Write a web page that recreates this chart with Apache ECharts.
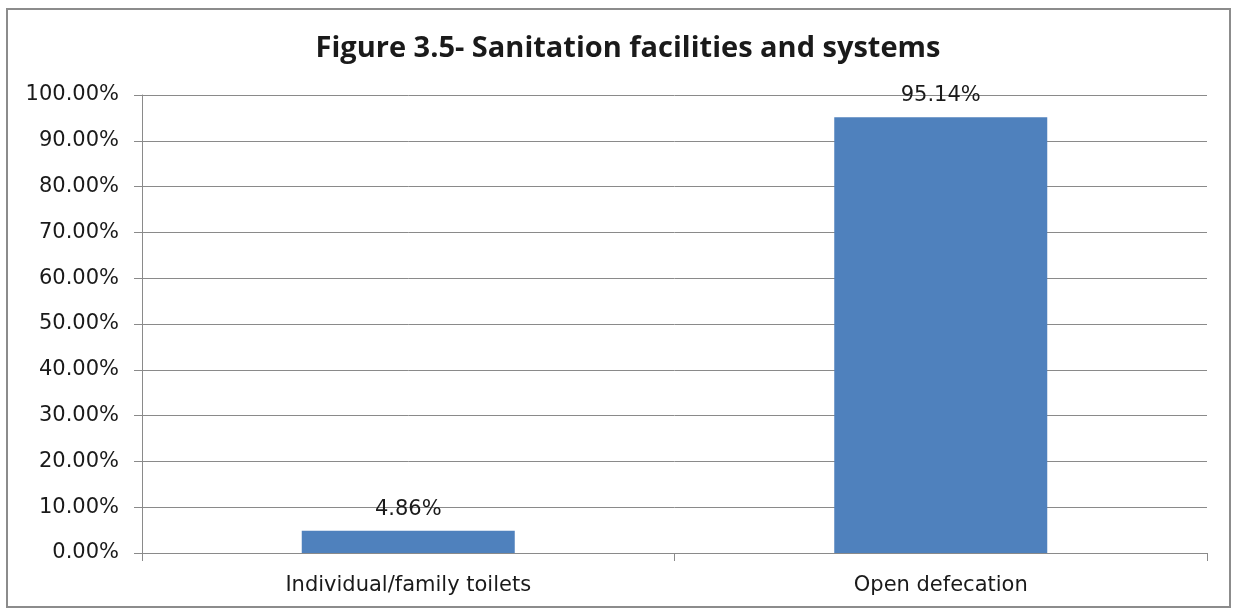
<!DOCTYPE html>
<html>
<head>
<meta charset="utf-8">
<style>
  html, body { margin: 0; padding: 0; background: #ffffff; }
  #chart { width: 1237px; height: 613px; }
</style>
<script src="https://cdn.jsdelivr.net/npm/echarts@6/dist/echarts.min.js"></script>
</head>
<body>
<div id="chart"></div>
<script>
// Sanitation facilities and systems — share of households
const categories = ['Individual/family toilets', 'Open defecation'];
const shares = [4.86, 95.14];
const yTicks = [0, 10, 20, 30, 40, 50, 60, 70, 80, 90, 100];

const chart = echarts.init(document.getElementById('chart'), null, { renderer: 'canvas' });

const labelFont = 'DejaVu Sans';
const textColor = '#1a1a1a';
const lineColor = '#8a8a8a';

chart.setOption({
  backgroundColor: '#ffffff',
  animation: false,
  title: {
    text: 'Figure 3.5- Sanitation facilities and systems',
    left: 623,
    textAlign: 'center',
    top: 29,
    textStyle: {
      fontFamily: 'Open Sans',
      fontWeight: 'bold',
      fontSize: 29,
      color: textColor
    }
  },
  graphic: [{
    type: 'rect',
    shape: { x: 7, y: 9, width: 1223, height: 598 },
    style: { fill: 'none', stroke: '#8c8c8c', lineWidth: 2 },
    silent: true
  }],
  grid: { left: 142, right: 30, top: 95, bottom: 60, containLabel: false },
  xAxis: {
    type: 'category',
    data: categories,
    boundaryGap: true,
    axisLine: { lineStyle: { color: lineColor, width: 1 } },
    axisTick: { show: true, interval: 0, length: 8, lineStyle: { color: lineColor } },
    axisLabel: {
      fontFamily: labelFont,
      fontSize: 21,
      color: textColor,
      margin: 22
    }
  },
  yAxis: {
    type: 'value',
    min: yTicks[0],
    max: yTicks[yTicks.length - 1],
    interval: 10,
    axisLine: { show: true, lineStyle: { color: lineColor, width: 1 } },
    axisTick: { show: true, length: 8, inside: false, lineStyle: { color: lineColor } },
    splitLine: { show: true, lineStyle: { color: lineColor, width: 1 } },
    axisLabel: {
      fontFamily: labelFont,
      fontSize: 21,
      color: textColor,
      margin: 23,
      formatter: v => v.toFixed(2) + '%'
    }
  },
  series: [{
    type: 'bar',
    data: shares,
    barWidth: '40%',
    itemStyle: { color: '#4f81bd' },
    label: {
      show: true,
      position: 'top',
      distance: 11,
      fontFamily: labelFont,
      fontSize: 21,
      color: textColor,
      formatter: p => p.value.toFixed(2) + '%'
    }
  }]
});
</script>
</body>
</html>
